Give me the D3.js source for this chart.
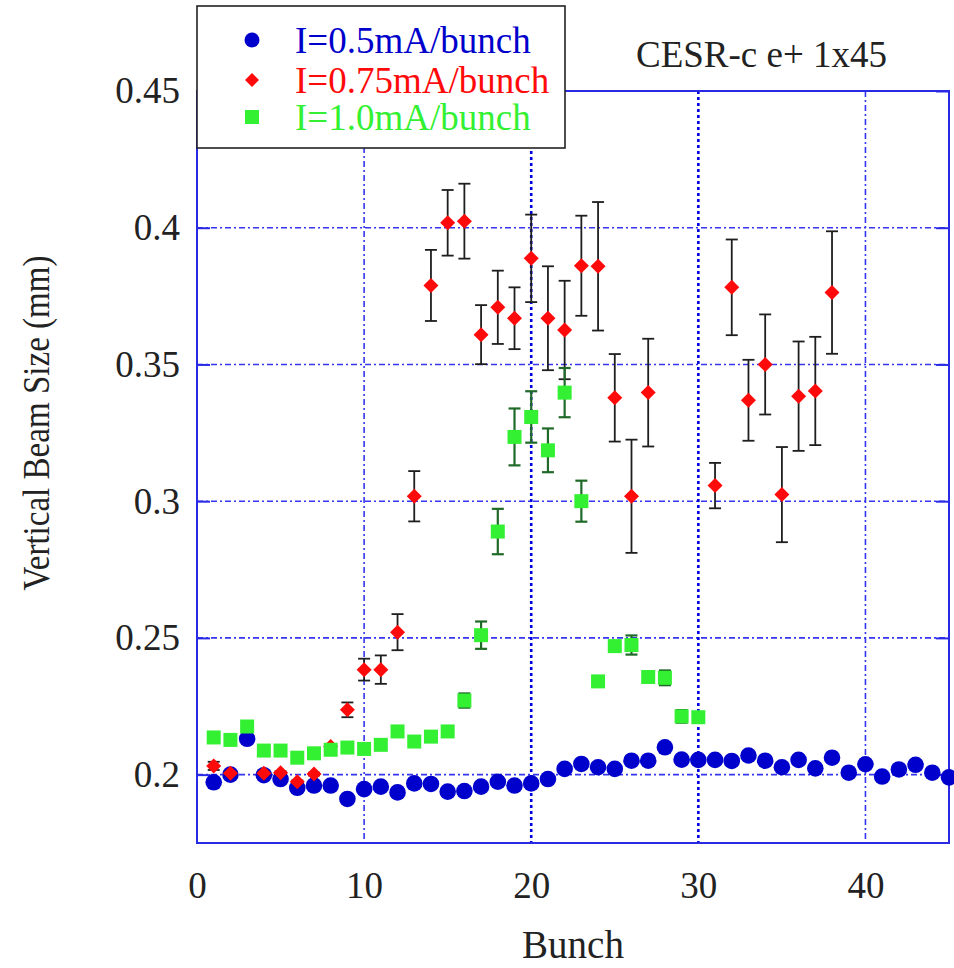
<!DOCTYPE html>
<html>
<head>
<meta charset="utf-8">
<script src="https://cdn.jsdelivr.net/npm/d3@7"></script>
<style>
  body { margin: 0; background: #fff; }
  text { font-family: "Liberation Serif", "Times New Roman", serif; }
</style>
</head>
<body>
<script>
var w = 954, h = 968;

// bunch numbers and values (mm)
var blueBunch = [1,2,3,4,5,6,7,8,9,10,11,12,13,14,15,16,17,18,19,20,21,22,23,24,25,26,27,28,29,30,31,32,33,34,35,36,37,38,39,40,41,42,43,44,45];
var blueVals = [0.1972,0.2000,0.2131,0.1998,0.1984,0.1952,0.1960,0.1960,0.1911,0.1947,0.1956,0.1935,0.1968,0.1966,0.1938,0.1940,0.1956,0.1974,0.1960,0.1968,0.1984,0.2021,0.2039,0.2027,0.2021,0.2051,0.2051,0.2100,0.2055,0.2054,0.2054,0.2050,0.2070,0.2051,0.2027,0.2054,0.2023,0.2062,0.2007,0.2038,0.1993,0.2019,0.2036,0.2007,0.1990];

var redBunch = [1,2,4,5,6,7,8,9,10,11,12,13,14,15,16,17,18,19,20,21,22,23,24,25,26,27,31,32,33,34,35,36,37,38];
var redVals = [0.2032,0.2005,0.2005,0.2007,0.1974,0.2002,0.2103,0.2237,0.2384,0.2384,0.2521,0.3018,0.3789,0.4018,0.4024,0.3609,0.3709,0.3669,0.3888,0.3669,0.3626,0.3861,0.3859,0.3378,0.3018,0.3397,0.3057,0.3782,0.3369,0.3500,0.3024,0.3384,0.3403,0.3763];
var redErr = [0.0015,0.0005,0.0005,0.0005,0.0005,0.0005,0.0005,0.0027,0.0040,0.0052,0.0066,0.0092,0.0130,0.0120,0.0137,0.0108,0.0134,0.0113,0.0160,0.0190,0.0180,0.0183,0.0235,0.0160,0.0207,0.0197,0.0083,0.0175,0.0148,0.0183,0.0174,0.0200,0.0198,0.0224];

var greenBunch = [1,2,3,4,5,6,7,8,9,10,11,12,13,14,15,16,17,18,19,20,21,22,23,24,25,26,27,28,29,30];
var greenVals = [0.2136,0.2127,0.2176,0.2088,0.2088,0.2062,0.2078,0.2091,0.2099,0.2094,0.2109,0.2158,0.2121,0.2139,0.2158,0.2271,0.2510,0.2889,0.3235,0.3308,0.3186,0.3397,0.3000,0.2341,0.2470,0.2474,0.2357,0.2354,0.2213,0.2210];
var greenErr = [0,0,0,0,0,0,0,0,0,0,0,0,0,0,0,0.0026,0.0050,0.0083,0.0104,0.0094,0.0080,0.0090,0.0075,0,0,0.0035,0,0.0027,0.0023,0];

var xTicks = [0, 10, 20, 30, 40];
var yTicks = [0.2, 0.25, 0.3, 0.35, 0.4, 0.45];
var legendLabels = ["I=0.5mA/bunch", "I=0.75mA/bunch", "I=1.0mA/bunch"];
var title = "CESR-c e+ 1x45";

var blue = "#0000cc", red = "#ff0a0a", green = "#33f033";
var frameColor = "#2a2ae6", gridColor = "#3535f0";

// plot box (window.top is reserved, so use other names)
var pLeft = 197, pRight = 949, pTop = 91, pBottom = 843;
var x = d3.scaleLinear().domain([0, 45]).range([pLeft, pRight]);
var y = d3.scaleLinear().domain([0.175, 0.45]).range([pBottom, pTop]);

var svg = d3.select('body').append('svg').attr('width', w).attr('height', h);

// grid
svg.selectAll('line.hgrid')
  .data(yTicks.filter(function (d) { return d < 0.45; }))
  .enter().append('line')
  .attr('class', 'hgrid')
  .attr('x1', pLeft).attr('x2', pRight)
  .attr('y1', function (d) { return y(d); })
  .attr('y2', function (d) { return y(d); })
  .style('stroke', gridColor).style('stroke-width', 1.6)
  .style('stroke-dasharray', '6,3,2,3');

svg.selectAll('line.vgrid')
  .data(xTicks.filter(function (d) { return d > 0; }))
  .enter().append('line')
  .attr('class', 'vgrid')
  .attr('y1', pTop).attr('y2', pBottom)
  .attr('x1', function (d) { return x(d); })
  .attr('x2', function (d) { return x(d); })
  .style('stroke', function (d) { return (d === 20 || d === 30) ? '#0000e0' : gridColor; })
  .style('stroke-width', function (d) { return (d === 20 || d === 30) ? 2.6 : 1.6; })
  .style('stroke-dasharray', function (d) { return (d === 20 || d === 30) ? '3,3' : '6,3,2,3'; });

// frame
svg.append('rect')
  .attr('x', pLeft).attr('y', pTop)
  .attr('width', pRight - pLeft).attr('height', pBottom - pTop)
  .style('fill', 'none').style('stroke', frameColor).style('stroke-width', 2);

// axes
var yAxis = svg.append('g')
  .attr('transform', 'translate(' + pLeft + ',0)')
  .call(d3.axisLeft(y).tickValues(yTicks).tickSize(-13).tickPadding(17).tickFormat(function (d) { return d; }));
yAxis.select('.domain').remove();

var yAxisR = svg.append('g')
  .attr('transform', 'translate(' + pRight + ',0)')
  .call(d3.axisRight(y).tickValues(yTicks).tickSize(-13).tickFormat(''));
yAxisR.select('.domain').remove();

var xAxis = svg.append('g')
  .attr('transform', 'translate(0,' + pBottom + ')')
  .call(d3.axisBottom(x).tickValues(xTicks).tickSize(0).tickPadding(29).tickFormat(function (d) { return d; }));
xAxis.select('.domain').remove();

svg.selectAll('.tick line').style('stroke', frameColor).style('stroke-width', 2);
svg.selectAll('.tick text')
  .style('font-family', '"Liberation Serif", serif')
  .style('font-size', '37px')
  .style('fill', '#222');

// axis titles
svg.append('text')
  .attr('x', x(22.5)).attr('y', 958)
  .attr('text-anchor', 'middle')
  .style('font-size', '39px').style('fill', '#222')
  .text('Bunch');

svg.append('text')
  .attr('transform', 'translate(49,423) rotate(-90)')
  .attr('text-anchor', 'middle')
  .attr('textLength', 335).attr('lengthAdjust', 'spacingAndGlyphs')
  .style('font-size', '38px').style('fill', '#222')
  .text('Vertical Beam Size (mm)');

// series 1: blue dots
var blueData = blueBunch.map(function (b, i) { return { b: b, v: blueVals[i] }; });
svg.selectAll('circle.blue')
  .data(blueData).enter().append('circle')
  .attr('class', 'blue')
  .attr('cx', function (d) { return x(d.b); })
  .attr('cy', function (d) { return y(d.v); })
  .attr('r', 8.3)
  .style('fill', blue);

// error bars helper
function errorBars(cls, data, color, width) {
  var g = svg.append('g').attr('class', cls);
  var sel = g.selectAll('g').data(data.filter(function (d) { return d.e > 0; })).enter().append('g');
  sel.append('line')
    .attr('x1', function (d) { return x(d.b); })
    .attr('x2', function (d) { return x(d.b); })
    .attr('y1', function (d) { return y(d.v - d.e); })
    .attr('y2', function (d) { return y(d.v + d.e); });
  sel.append('line')
    .attr('x1', function (d) { return x(d.b) - 6; })
    .attr('x2', function (d) { return x(d.b) + 6; })
    .attr('y1', function (d) { return y(d.v + d.e); })
    .attr('y2', function (d) { return y(d.v + d.e); });
  sel.append('line')
    .attr('x1', function (d) { return x(d.b) - 6; })
    .attr('x2', function (d) { return x(d.b) + 6; })
    .attr('y1', function (d) { return y(d.v - d.e); })
    .attr('y2', function (d) { return y(d.v - d.e); });
  g.selectAll('line').style('stroke', color).style('stroke-width', width);
}

// series 2: red diamonds
var redData = redBunch.map(function (b, i) { return { b: b, v: redVals[i], e: redErr[i] }; });
errorBars('rerr', redData, '#1e1e1e', 1.8);
svg.selectAll('path.red')
  .data(redData).enter().append('path')
  .attr('class', 'red')
  .attr('transform', function (d) { return 'translate(' + x(d.b) + ',' + y(d.v) + ')'; })
  .attr('d', 'M0,-7.5L7.5,0L0,7.5L-7.5,0Z')
  .style('fill', red);

// series 3: green squares
var greenData = greenBunch.map(function (b, i) { return { b: b, v: greenVals[i], e: greenErr[i] }; });
errorBars('gerr', greenData, '#1f6a28', 2.2);
svg.selectAll('rect.green')
  .data(greenData).enter().append('rect')
  .attr('class', 'green')
  .attr('x', function (d) { return x(d.b) - 7; })
  .attr('y', function (d) { return y(d.v) - 7; })
  .attr('width', 14).attr('height', 14)
  .style('fill', green);

// title
svg.append('text')
  .attr('x', 636).attr('y', 67)
  .style('font-size', '37px').style('fill', '#222')
  .text(title);

// legend
var lg = svg.append('g');
lg.append('rect')
  .attr('x', 197).attr('y', 6).attr('width', 368).attr('height', 142)
  .style('fill', '#fff').style('stroke', '#222').style('stroke-width', 1.6);
var legendColors = [blue, red, green];
var legendY = [40, 80, 117];
lg.append('circle').attr('cx', 252).attr('cy', legendY[0]).attr('r', 7.5).style('fill', blue);
lg.append('path').attr('transform', 'translate(252,' + legendY[1] + ')')
  .attr('d', 'M0,-7L7,0L0,7L-7,0Z').style('fill', red);
lg.append('rect').attr('x', 245).attr('y', legendY[2] - 7).attr('width', 14).attr('height', 14).style('fill', green);
lg.selectAll('text.leg')
  .data(legendLabels).enter().append('text')
  .attr('class', 'leg')
  .attr('x', 295)
  .attr('y', function (d, i) { return legendY[i] + 13; })
  .style('font-size', '37px')
  .style('fill', function (d, i) { return legendColors[i]; })
  .text(function (d) { return d; });
</script>
</body>
</html>
